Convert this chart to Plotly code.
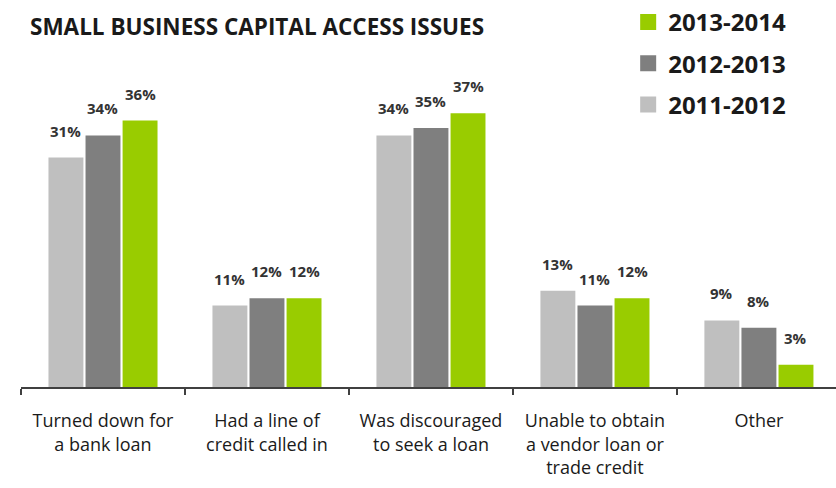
import plotly.graph_objects as go

# Survey categories and share of firms reporting each issue (%)
categories = [
    "Turned down for<br>a bank loan",
    "Had a line of<br>credit called in",
    "Was discouraged<br>to seek a loan",
    "Unable to obtain<br>a vendor loan or<br>trade credit",
    "Other",
]
periods = ["2011-2012", "2012-2013", "2013-2014"]
values_2011_2012 = [31, 11, 34, 13, 9]
values_2012_2013 = [34, 12, 35, 11, 8]
values_2013_2014 = [36, 12, 37, 12, 3]

series = [values_2011_2012, values_2012_2013, values_2013_2014]
colors = ["#BFBFBF", "#7F7F7F", "#99CC00"]

BAR_W = 0.213      # bar width in category units
STEP = 0.226       # distance between bar centres inside a group
LABEL_FONT = dict(family="Open Sans", size=15, color="#333333", weight="bold")

fig = go.Figure()
annotations = []
idx = list(range(len(categories)))

for k, (name, vals, col) in enumerate(zip(periods, series, colors)):
    centre_off = (k - 1) * STEP
    fig.add_trace(go.Bar(
        x=categories, y=vals, name=name,
        marker=dict(color=col, line=dict(width=0)),
        width=BAR_W, offset=centre_off - BAR_W / 2,
        showlegend=False, legendgroup=name,
        hoverinfo="skip",
    ))
    for i, v in zip(idx, vals):
        annotations.append(dict(
            x=i + centre_off, y=v, xref="x", yref="y",
            text=f"{v}%", showarrow=False, yanchor="bottom",
            yshift=15, font=LABEL_FONT,
        ))

# legend swatches, newest period first (no data of their own)
for name, col in reversed(list(zip(periods, colors))):
    fig.add_trace(go.Scatter(
        x=[None], y=[None], mode="markers", name=name, legendgroup=name,
        marker=dict(symbol="square", size=17, color=col),
    ))

fig.update_layout(
    width=836, height=488,
    margin=dict(l=21, r=0, t=16, b=101),
    paper_bgcolor="white", plot_bgcolor="white",
    barmode="overlay",
    title=dict(
        text="SMALL BUSINESS CAPITAL ACCESS ISSUES",
        xref="container", yref="container",
        x=30 / 836, y=1 - 27 / 488, xanchor="left", yanchor="middle",
        font=dict(family="Open Sans", size=22.5, color="#1a1a1a", weight="bold"),
    ),
    legend=dict(
        x=0.745, y=1.045, xanchor="left", yanchor="top",
        traceorder="grouped", tracegroupgap=7,
        font=dict(family="Open Sans", size=24, color="#1a1a1a", weight="bold"),
        itemsizing="trace", bgcolor="rgba(0,0,0,0)",
    ),
    xaxis=dict(
        type="category", categoryorder="array", categoryarray=categories,
        range=[-0.5, 4.47],
        showline=True, linecolor="#404040", linewidth=1.5,
        ticks="outside", tickson="boundaries", ticklen=6,
        tickcolor="#404040", tickwidth=1.5,
        ticklabelstandoff=17,
        tickfont=dict(family="Open Sans", size=18, color="#1a1a1a"),
        showgrid=False, zeroline=False, fixedrange=True,
    ),
    yaxis=dict(
        range=[0, 50], visible=False, showgrid=False, zeroline=False,
    ),
    annotations=annotations,
    showlegend=True,
)

fig.write_html("out.html")
